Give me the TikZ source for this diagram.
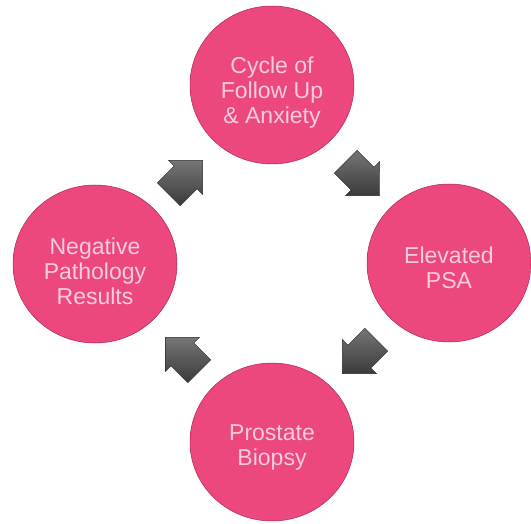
\documentclass[tikz,border=0pt]{standalone}
\usepackage{fontspec}
\setmainfont{Liberation Sans}
\usetikzlibrary{shapes.arrows,shapes.geometric,calc}
\definecolor{pinkin}{RGB}{236,72,125}
\definecolor{pinkout}{RGB}{214,48,100}
\definecolor{txtpink}{RGB}{250,205,222}
\definecolor{arrowdark}{RGB}{58,58,58}
\definecolor{arrowlight}{RGB}{118,118,118}
\pgfdeclareradialshading{pinkball}{\pgfpoint{0bp}{0bp}}{color(0bp)=(pinkin); color(40bp)=(pinkin); color(48bp)=(pinkout); color(50bp)=(pinkout!85!black)}
\newcommand{\liftby}[1]{\rule{0pt}{#1}}
\begin{document}
\begin{tikzpicture}[x=1pt,y=-1pt,
  stage/.style={ellipse, minimum width=164pt, minimum height=158pt, inner sep=0pt, shading=pinkball,
    draw=pinkout!80!black, line width=0.5pt, text=txtpink,
    font=\fontsize{23}{25}\selectfont, align=center},
  flowarrow/.style={single arrow, minimum height=48pt, inner xsep=0pt, inner ysep=16pt,
    single arrow head extend=8pt, single arrow tip angle=90,
    top color=arrowlight, bottom color=arrowdark,
    draw=arrowdark!70!black, line width=0.4pt}]
\useasboundingbox (0,0) rectangle (531,524);
\node[stage] (cycle) at (272,85) {\liftby{31pt}Cycle of\\Follow Up\\\& Anxiety};
\node[stage] (psa) at (449,263) {\liftby{27pt}Elevated\\PSA};
\node[stage] (biopsy) at (272,442) {\liftby{27pt}Prostate\\Biopsy};
\node[stage] (neg) at (95,264) {\liftby{31pt}Negative\\Pathology\\Results};
\node[flowarrow, rotate=45] (a1) at (180,183) {};
\node[flowarrow, rotate=-45] (a2) at (357,173) {};
\node[flowarrow, rotate=-135] (a3) at (365,351) {};
\node[flowarrow, rotate=135] (a4) at (188,360) {};
\end{tikzpicture}
\end{document}
